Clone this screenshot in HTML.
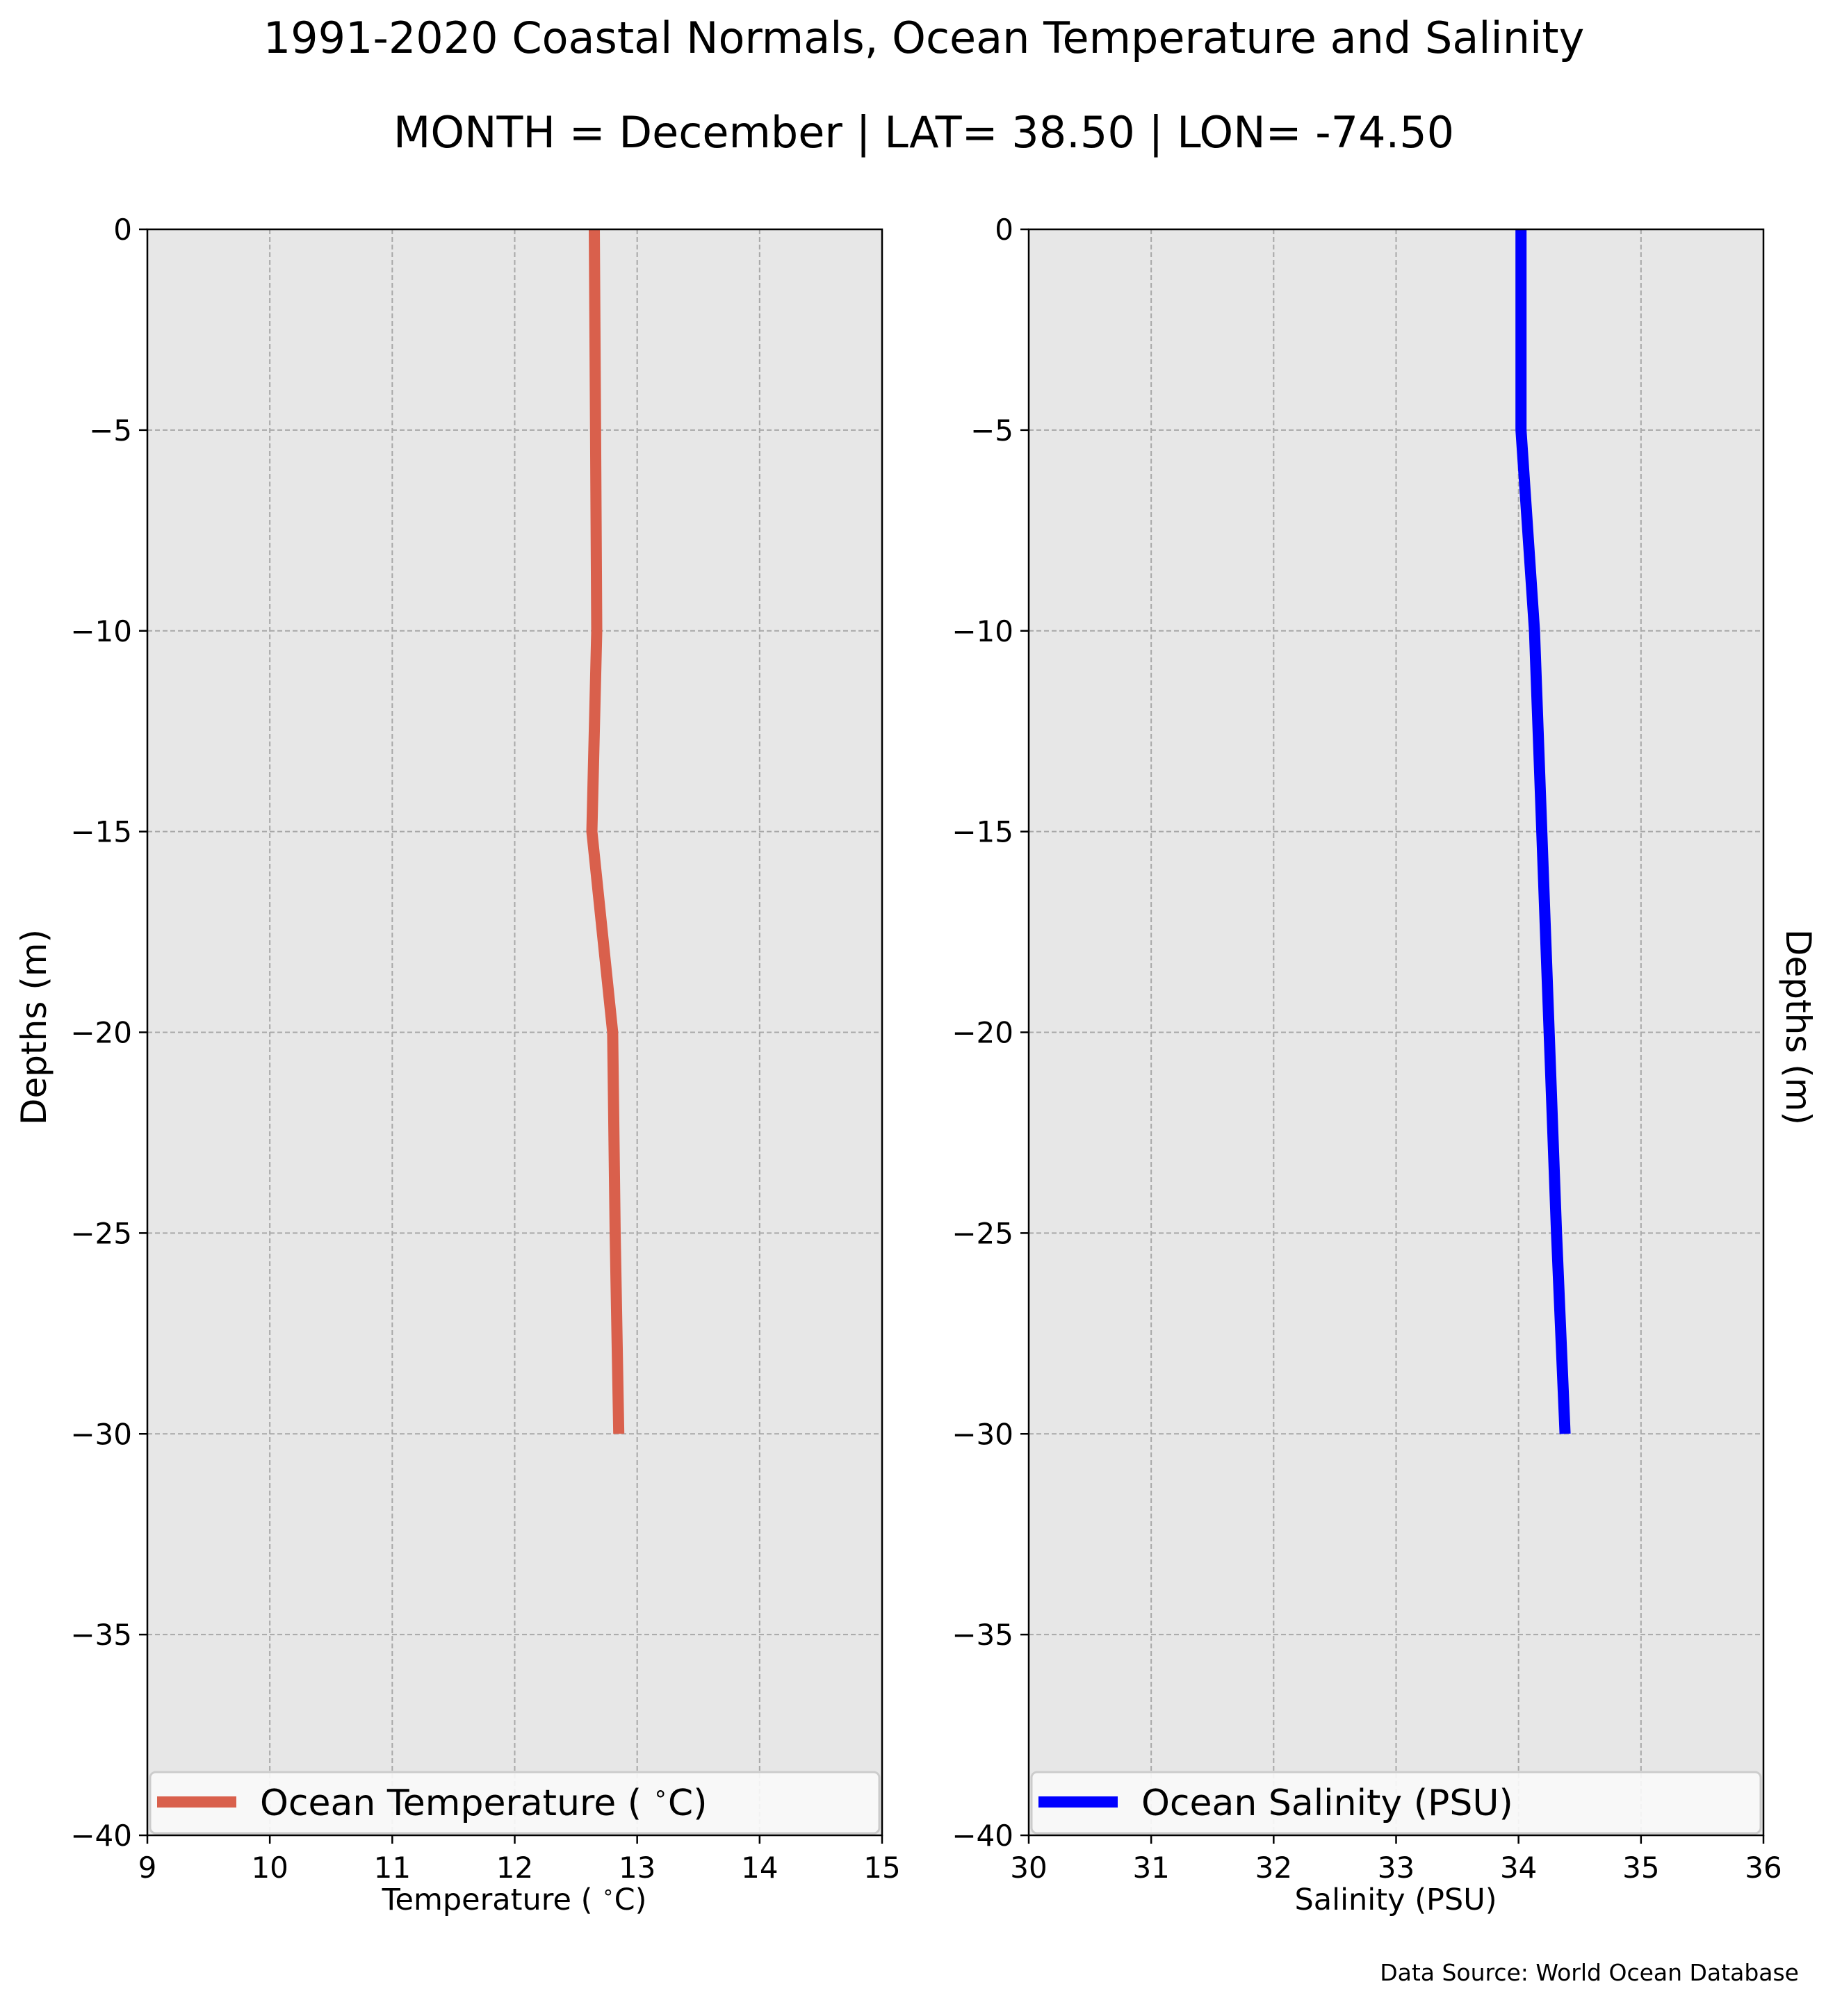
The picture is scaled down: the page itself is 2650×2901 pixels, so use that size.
<!DOCTYPE html>
<html><head><meta charset="utf-8"><style>
html,body{margin:0;padding:0;background:#fff}
svg{display:block;font-family:"DejaVu Sans","Liberation Sans",sans-serif}
</style></head><body>
<svg id="chart" width="2650" height="2901" viewBox="0 0 2650 2901" xmlns="http://www.w3.org/2000/svg">
<text x="1329" y="76" font-size="62" text-anchor="middle">1991-2020 Coastal Normals, Ocean Temperature and Salinity</text>
<text x="1329" y="212" font-size="62" text-anchor="middle">MONTH = December | LAT= 38.50 | LON= -74.50</text>
<g id="left"></g>
<g id="right"></g>
<text transform="translate(66,1478) rotate(-90)" font-size="50" text-anchor="middle">Depths (m)</text>
<text transform="translate(2570,1478) rotate(90)" font-size="50" text-anchor="middle">Depths (m)</text>
<text x="740" y="2748" font-size="43" text-anchor="middle">Temperature ( <tspan baseline-shift="super" font-size="28">∘</tspan>C)</text>
<text x="2008" y="2748" font-size="43" text-anchor="middle">Salinity (PSU)</text>
<text x="2588" y="2850" font-size="33" text-anchor="end">Data Source: World Ocean Database</text>
</svg>
<script>
const depths = [0, -5, -10, -15, -20, -25, -30];
const temperature = [12.65, 12.66, 12.67, 12.63, 12.80, 12.82, 12.85];
const salinity = [34.02, 34.02, 34.13, 34.19, 34.25, 34.31, 34.38];
const tempTicks = [9, 10, 11, 12, 13, 14, 15];
const salTicks = [30, 31, 32, 33, 34, 35, 36];
const depthTicks = [0, -5, -10, -15, -20, -25, -30, -35, -40];
const depthTickLabels = ["0", "\u22125", "\u221210", "\u221215", "\u221220", "\u221225", "\u221230", "\u221235", "\u221240"];

const NS = "http://www.w3.org/2000/svg";
const TOP = 330, BOT = 2641;
function mk(tag, attrs, parent) {
  const e = document.createElementNS(NS, tag);
  for (const k in attrs) e.setAttribute(k, attrs[k]);
  parent.appendChild(e);
  return e;
}
function yScale(d) { return TOP + (0 - d) / 40 * (BOT - TOP); }

function panel(g, x0, x1, xmin, xmax, xticks, values, color, legendText, prefix) {
  const xs = v => x0 + (v - xmin) / (xmax - xmin) * (x1 - x0);
  const bg = mk("rect", {x: x0, y: TOP, width: x1 - x0, height: BOT - TOP, fill: "#e7e7e7"}, g);
  
  
  xticks.forEach((t, i) => {
    const x = xs(t);
    if (i > 0 && i < xticks.length - 1) {
      const gl = mk("line", {x1: x, x2: x, y1: TOP, y2: BOT, stroke: "#a8a8a8", "stroke-width": 2, "stroke-dasharray": "7,4"}, g);
      
      
    }
    const tk = mk("line", {x1: x, x2: x, y1: BOT, y2: BOT + 12, stroke: "#000", "stroke-width": 2.5}, g);
    
    
    const tl = mk("text", {x: x, y: 2702, "font-size": 42, "text-anchor": "middle"}, g);
    tl.textContent = String(t);
    
    
  });
  depthTicks.forEach((d, i) => {
    const y = yScale(d);
    if (i > 0 && i < depthTicks.length - 1) {
      const gl = mk("line", {x1: x0, x2: x1, y1: y, y2: y, stroke: "#a8a8a8", "stroke-width": 2, "stroke-dasharray": "7,4"}, g);
      
      
    }
    const tk = mk("line", {x1: x0 - 12, x2: x0, y1: y, y2: y, stroke: "#000", "stroke-width": 2.5}, g);
    
    
    const tl = mk("text", {x: x0 - 22, y: y + 15, "font-size": 42, "text-anchor": "end"}, g);
    tl.textContent = depthTickLabels[i];
    
    
  });
  const pts = values.map((v, i) => xs(v).toFixed(1) + "," + yScale(depths[i]).toFixed(1)).join(" ");
  const line = mk("polyline", {points: pts, fill: "none", stroke: color, "stroke-width": 16, "stroke-linejoin": "miter"}, g);
  
  
  const fr = mk("rect", {x: x0, y: TOP, width: x1 - x0, height: BOT - TOP, fill: "none", stroke: "#000", "stroke-width": 2.5}, g);
  
  
  const lg = mk("g", {}, g);
  
  
  mk("rect", {x: x0 + 4, y: 2550, width: x1 - x0 - 8, height: 88, rx: 8, fill: "#fafafa", "fill-opacity": 0.9, stroke: "#cccccc", "stroke-width": 3}, lg);
  const ll = mk("line", {x1: x0 + 14, x2: x0 + 128, y1: 2593, y2: 2593, stroke: color, "stroke-width": 16}, lg);
  
  
  const lt = mk("text", {x: x0 + 162, y: 2612, "font-size": 52}, lg);
  lt.innerHTML = legendText;
  
  
}
panel(document.getElementById("left"), 212, 1269, 9, 15, tempTicks, temperature, "#d9604c",
  'Ocean Temperature ( <tspan baseline-shift="super" font-size="34">∘</tspan>C)', "temperature");
panel(document.getElementById("right"), 1480, 2537, 30, 36, salTicks, salinity, "#0000ff",
  'Ocean Salinity (PSU)', "salinity");
</script>
</body></html>
